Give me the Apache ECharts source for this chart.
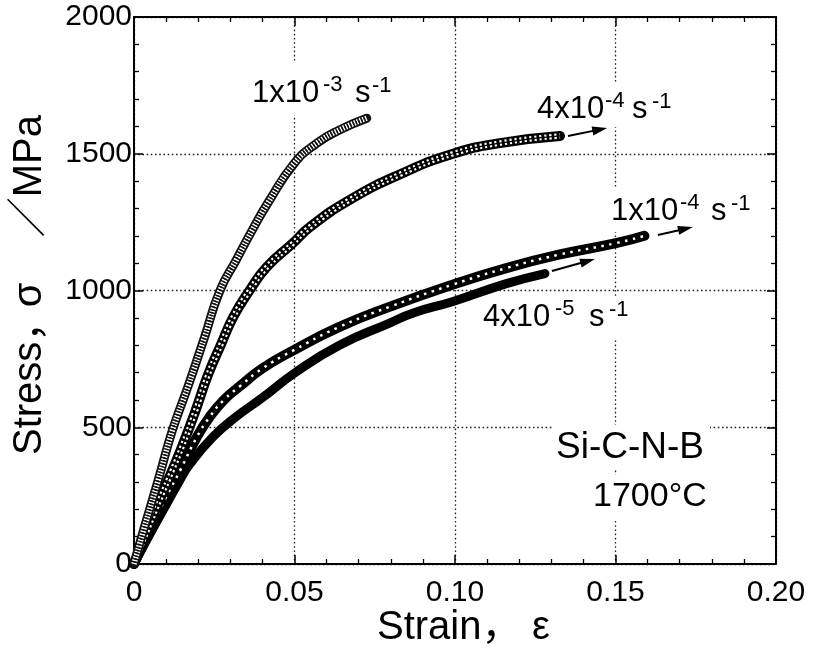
<!DOCTYPE html>
<html>
<head>
<meta charset="utf-8">
<script src="https://cdn.jsdelivr.net/npm/echarts@6/dist/echarts.min.js"></script>
<style>
  html, body { margin: 0; padding: 0; background: #fff; }
  #chart { width: 815px; height: 655px; }
</style>
</head>
<body>
<div id="chart"></div>
<script>
// Stress–strain curves of Si-C-N-B at 1700 °C for four strain rates: [strain, stress in MPa]
const rate1e3 = [[0, 0], [0.003, 125], [0.0075, 305], [0.012, 490], [0.017, 655], [0.022, 830],
  [0.0268, 1000], [0.032, 1115], [0.0368, 1220], [0.0417, 1320], [0.05, 1466], [0.057, 1539],
  [0.064, 1587], [0.0725, 1630]];
const rate4e4 = [[0, 0], [0.004, 120], [0.008, 235], [0.012, 345], [0.015, 430], [0.019, 555],
  [0.023, 690], [0.027, 800], [0.031, 905], [0.036, 1000], [0.0414, 1086], [0.0495, 1173],
  [0.0548, 1232], [0.067, 1330], [0.0829, 1425], [0.0994, 1500], [0.114, 1539], [0.1327, 1565]];
const rate1e4 = [[0, 0], [0.005, 125], [0.010, 245], [0.0145, 345], [0.0196, 465], [0.0237, 540],
  [0.028, 600], [0.033, 650], [0.04, 715], [0.0495, 780], [0.064, 867], [0.08, 942],
  [0.0994, 1022], [0.116, 1082], [0.132, 1130], [0.1505, 1174], [0.159, 1200]];
const rate4e5 = [[0, 0], [0.005, 110], [0.009, 195], [0.0135, 290], [0.0174, 365], [0.0246, 465],
  [0.032, 540], [0.04, 608], [0.05, 698], [0.064, 800], [0.0798, 882], [0.087, 918],
  [0.0994, 960], [0.116, 1025], [0.128, 1062]];

// Tick labels
const xTickLabels = ['0', '0.05', '0.10', '0.15', '0.20'];
const yTickLabels = ['0', '500', '1000', '1500', '2000'];

// Arrows pointing past the end of each curve: [from, to] in [strain, stress]
const arrow4e4 = [[0.1352, 1565], [0.1474, 1594]];
const arrow1e4 = [[0.1632, 1203], [0.1741, 1232]];
const arrow4e5 = [[0.1302, 1071], [0.1436, 1115]];

const FONT = '"Liberation Sans", "Noto Sans CJK JP", Arial, sans-serif';

const chart = echarts.init(document.getElementById('chart'), null, { renderer: 'canvas' });

// Each curve is drawn as a thick band built from stacked strokes of the same data
function band(data, layers) {
  return layers.map(l => ({
    type: 'line',
    data: data,
    xAxisIndex: 0,
    yAxisIndex: 0,
    symbol: 'none',
    smooth: 0.5,
    silent: true,
    animation: false,
    lineStyle: {
      width: l.w,
      color: l.c,
      type: l.dash || 'solid',
      dashOffset: l.off || 0,
      cap: l.cap || 'butt',
      join: 'round'
    }
  }));
}

const series = [].concat(
  band(rate4e5, [{ w: 9, c: '#000', cap: 'round' }]),
  band(rate1e4, [{ w: 10, c: '#000', cap: 'round' }, { w: 2.5, c: '#fff', dash: [2.5, 5.5] }]),
  band(rate4e4, [{ w: 10, c: '#000', cap: 'round' }, { w: 5.5, c: '#fff', dash: [2.2, 2.8] },
                 { w: 1.3, c: '#000' }]),
  band(rate1e3, [{ w: 9, c: '#111', cap: 'round' }, { w: 5.5, c: '#fff', dash: [1.5, 1.5] },
                 { w: 2.2, c: '#111', dash: [1.5, 1.5], off: 1.5 }])
);

function axisBase(extra) {
  return Object.assign({
    type: 'value',
    gridIndex: 0,
    axisLine: { show: true, onZero: false, lineStyle: { color: '#000', width: 2 } },
    axisTick: { show: true, inside: true, length: 9, lineStyle: { color: '#000', width: 1.5 } },
    minorTick: { show: true, splitNumber: 5, length: 5, lineStyle: { color: '#000', width: 1.3 } },
    splitLine: { show: false }
  }, extra);
}

const gridLine = { show: true, lineStyle: { color: '#222', width: 1.3, type: [1.6, 2.6] } };

chart.setOption({
  animation: false,
  backgroundColor: '#fff',
  grid: { left: 134, top: 17, width: 642, height: 547, containLabel: false },
  xAxis: [
    axisBase({
      position: 'bottom', min: 0, max: 0.2, interval: 0.05,
      splitLine: gridLine,
      axisLabel: {
        show: true, margin: 14, color: '#000', fontSize: 30, fontFamily: FONT,
        formatter: v => xTickLabels[Math.round(v / 0.05)]
      }
    }),
    axisBase({ position: 'top', min: 0, max: 0.2, interval: 0.05, axisLabel: { show: false } })
  ],
  yAxis: [
    axisBase({
      position: 'left', min: 0, max: 2000, interval: 500,
      splitLine: gridLine,
      axisLabel: {
        show: true, margin: 2, color: '#000', fontSize: 30, fontFamily: FONT,
        formatter: v => yTickLabels[Math.round(v / 500)]
      }
    }),
    axisBase({ position: 'right', min: 0, max: 2000, interval: 500, axisLabel: { show: false } })
  ],
  series: series
});

// ---- annotations ----
const els = [];

function blank(x, y, w, h) {
  els.push({ type: 'rect', z: 1, silent: true, shape: { x, y, width: w, height: h },
             style: { fill: '#fff' } });
}
function txt(x, y, s, size, extra) {
  els.push(Object.assign({
    type: 'text', z: 1, silent: true,
    style: { x, y, text: s, fill: '#000', font: size + 'px ' + FONT,
             align: 'left', verticalAlign: 'middle' }
  }, extra || {}));
}
// rate label: base "NxM10", superscript exponent, "s", superscript "-1"
function rateLabel(x, y, base, exp, pos) {
  txt(x, y, base, 31);
  txt(pos[0], y - 8, exp, 22);
  txt(pos[1], y, 's', 31);
  txt(pos[2], y - 7, '-1', 22);
}

blank(248, 63, 148, 52);
rateLabel(252, 93, '1x10', '-3', [323, 355, 372]);
blank(533, 83, 149, 44);
rateLabel(537, 109, '4x10', '-4', [605, 632, 652]);
blank(607, 188, 148, 44);
rateLabel(611, 211, '1x10', '-4', [680, 711, 731]);
blank(479, 296, 151, 42);
rateLabel(483, 317, '4x10', '-5', [555, 589, 609]);

blank(553, 425, 157, 45);
txt(556, 448, 'Si-C-N-B', 37);
blank(588, 475, 122, 45);
txt(593, 497, '1700°C', 34);

// axis titles
txt(377, 628, 'Strain，', 40);
txt(532, 628, 'ε', 40);
function vtxt(x, y, s, size, align) {
  els.push({ type: 'text', z: 1, silent: true, x, y, rotation: Math.PI / 2,
             style: { x: 0, y: 0, text: s, fill: '#000', font: size + 'px ' + FONT,
                      align: align, verticalAlign: 'middle' } });
}
vtxt(30, 455, 'Stress，', 40, 'left');
vtxt(30, 295, 'σ', 40, 'center');
vtxt(30, 115, '／MPa', 40, 'right');

// arrows
function arrow(spec) {
  const p0 = chart.convertToPixel({ gridIndex: 0 }, spec[0]);
  const p1 = chart.convertToPixel({ gridIndex: 0 }, spec[1]);
  const dx = p1[0] - p0[0], dy = p1[1] - p0[1];
  const len = Math.sqrt(dx * dx + dy * dy);
  const ux = dx / len, uy = dy / len;
  const head = 15, half = 4.5;
  const bx = p1[0] - ux * head, by = p1[1] - uy * head;
  els.push({ type: 'line', z: 3, silent: true,
             shape: { x1: p0[0], y1: p0[1], x2: bx + ux * 2, y2: by + uy * 2 },
             style: { stroke: '#000', lineWidth: 2 } });
  els.push({ type: 'polygon', z: 3, silent: true,
             shape: { points: [[p1[0], p1[1]], [bx - uy * half, by + ux * half], [bx + uy * half, by - ux * half]] },
             style: { fill: '#000' } });
}
arrow(arrow4e4);
arrow(arrow1e4);
arrow(arrow4e5);

chart.setOption({ graphic: els });
</script>
</body>
</html>
